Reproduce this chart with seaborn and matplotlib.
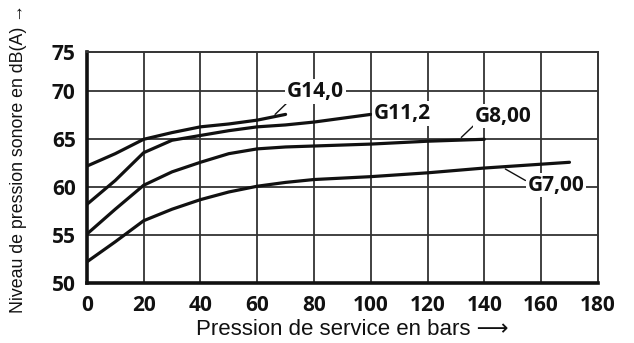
import matplotlib
matplotlib.use("Agg")
import matplotlib.pyplot as plt
import seaborn as sns
import pandas as pd

# ---- data ----
x_g7 = [0, 10, 20, 30, 40, 50, 60, 70, 80, 100, 120, 140, 160, 170]
y_g7 = [52.2, 54.3, 56.5, 57.7, 58.7, 59.5, 60.1, 60.5, 60.8, 61.1, 61.5, 62.0, 62.4, 62.6]
x_g8 = [0, 10, 20, 30, 40, 50, 60, 70, 80, 100, 120, 140]
y_g8 = [55.1, 57.7, 60.2, 61.6, 62.6, 63.5, 64.0, 64.2, 64.3, 64.5, 64.8, 65.0]
x_g11 = [0, 10, 20, 30, 40, 50, 60, 70, 80, 100]
y_g11 = [58.2, 60.7, 63.6, 64.9, 65.4, 65.9, 66.3, 66.5, 66.8, 67.6]
x_g14 = [0, 10, 20, 30, 40, 50, 60, 70]
y_g14 = [62.2, 63.5, 65.0, 65.7, 66.3, 66.6, 67.0, 67.6]
series_names = ["G7,00", "G8,00", "G11,2", "G14,0"]

x_ticks = [0, 20, 40, 60, 80, 100, 120, 140, 160, 180]
y_tick_labels = ["50", "55", "60", "65", "70", "75"]

xlabel = "Pression de service en bars \u27f6"
ylabel = "Niveau de pression sonore en dB(A) \u2192"

frames = []
for name, xs, ys in zip(series_names, [x_g7, x_g8, x_g11, x_g14], [y_g7, y_g8, y_g11, y_g14]):
    frames.append(pd.DataFrame({"p": xs, "db": ys, "serie": name}))
df = pd.concat(frames, ignore_index=True)

sns.set_theme(style="white")
plt.rcParams["font.family"] = ["Open Sans", "DejaVu Sans"]

fig = plt.figure(figsize=(6.34, 3.43), dpi=100)
ax = fig.add_axes([0.137, 0.175, 0.806, 0.673])

grid_c = "#333333"
for xv in x_ticks[1:-1]:
    ax.axvline(xv, color=grid_c, lw=1.3, zorder=1)
# top of drawn scale sits slightly below 75 in the reference
y_top = 74.1
y_pos = [50, 55, 60, 65, 70, y_top]
for yv in y_pos[1:-1]:
    ax.axhline(yv, color=grid_c, lw=1.3, zorder=1)

sns.lineplot(data=df, x="p", y="db", units="serie", estimator=None,
             color="#111111", lw=2.3, ax=ax, legend=False, zorder=3)

ax.set_xlim(0, 180)
ax.set_ylim(50, y_top)
ax.set_xticks(x_ticks)
ax.set_xticklabels([str(v) for v in x_ticks])
ax.set_yticks(y_pos)
ax.set_yticklabels(y_tick_labels)
ax.tick_params(axis="both", length=0, labelsize=15, colors="#111111")
ax.tick_params(axis="x", pad=9)
ax.tick_params(axis="y", pad=8)
for lab in ax.get_xticklabels() + ax.get_yticklabels():
    lab.set_fontweight("bold")

for side in ["left", "bottom"]:
    ax.spines[side].set_color("#111111")
    ax.spines[side].set_linewidth(2.6)
for side in ["top", "right"]:
    ax.spines[side].set_color(grid_c)
    ax.spines[side].set_linewidth(1.4)

ax.set_xlabel(xlabel, fontsize=16, family=["Liberation Sans", "DejaVu Sans"], color="#111111")
ax.set_ylabel(ylabel, fontsize=12.8, family=["Liberation Sans", "DejaVu Sans"], color="#111111")
ax.xaxis.set_label_coords(0.52, -0.155)
ax.yaxis.set_label_coords(-0.118, 0.54)

bbox = dict(facecolor="white", edgecolor="none", pad=1.2)
lab_kw = dict(fontsize=15, fontweight="bold", color="#111111", ha="left", va="center", zorder=5, bbox=bbox)
ax.text(70.5, 70.0, "G14,0", **lab_kw)
ax.text(100.9, 67.7, "G11,2", **lab_kw)
ax.text(136.5, 67.4, "G8,00", **lab_kw)
ax.text(155.2, 60.2, "G7,00", **lab_kw)

lead_kw = dict(color="#111111", lw=1.0, zorder=4)
ax.plot([66.3, 70.5], [67.6, 68.8], **lead_kw)
ax.plot([131.9, 136.5], [65.2, 66.5], **lead_kw)
ax.plot([147.4, 154.5], [61.9, 60.7], **lead_kw)

fig.savefig("out.png", dpi=100)
